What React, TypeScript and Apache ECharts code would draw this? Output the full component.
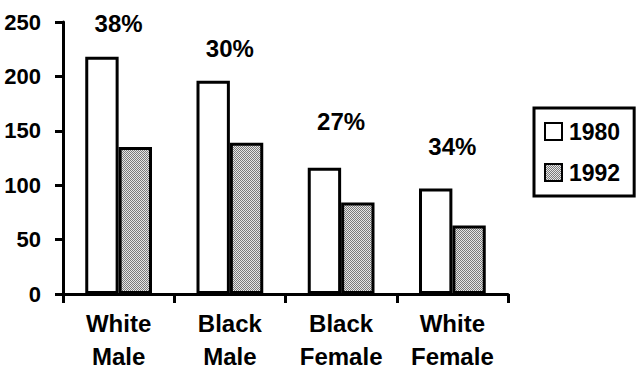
import React, { useEffect, useRef } from "react";
import * as echarts from "echarts";

const categories = ["White\nMale", "Black\nMale", "Black\nFemale", "White\nFemale"];
const values1980 = [218, 196, 116, 97];
const values1992 = [135, 139, 84, 63];
const pctLabels = ["38%", "30%", "27%", "34%"];
const pctLabelHeights = [249, 226, 159, 136];
const yTicks = { min: 0, max: 250, interval: 50 };

const FONT = "'Liberation Sans', Arial, Helvetica, sans-serif";

function makePattern(): HTMLCanvasElement {
  const c = document.createElement("canvas");
  c.width = 2;
  c.height = 2;
  const ctx = c.getContext("2d")!;
  ctx.fillStyle = "#e6e6e6";
  ctx.fillRect(0, 0, 2, 2);
  ctx.fillStyle = "#7a7a7a";
  ctx.fillRect(0, 0, 1, 1);
  ctx.fillRect(1, 1, 1, 1);
  return c;
}

export default function App() {
  const ref = useRef<HTMLDivElement>(null);
  useEffect(() => {
    if (!ref.current) return;
    const chart = echarts.init(ref.current, null, { renderer: "svg" });
    const pattern = { image: makePattern(), repeat: "repeat" as const };
    chart.setOption({
      animation: false,
      backgroundColor: "#fff",
      textStyle: { fontFamily: FONT },
      grid: { left: 63, right: 132, top: 22, bottom: 79 },
      legend: {
        data: ["1980", "1992"],
        orient: "vertical",
        left: 534,
        top: 108,
        padding: [12, 14, 12, 10],
        itemGap: 18,
        itemWidth: 17,
        itemHeight: 17,
        borderColor: "#000",
        borderWidth: 3,
        borderRadius: 0,
        icon: "rect",
        itemStyle: { borderColor: "#000", borderWidth: 2 },
        textStyle: {
          fontFamily: FONT,
          fontWeight: "bold",
          fontSize: 23,
          color: "#000",
          padding: [0, 0, 0, 2],
        },
      },
      xAxis: {
        type: "category",
        data: categories,
        axisLine: { lineStyle: { color: "#000", width: 3 } },
        axisTick: { show: true, length: 9, lineStyle: { color: "#000", width: 3 } },
        axisLabel: {
          margin: 13,
          fontFamily: FONT,
          fontWeight: "bold",
          fontSize: 24,
          lineHeight: 33,
          color: "#000",
          interval: 0,
        },
      },
      yAxis: {
        type: "value",
        min: yTicks.min,
        max: yTicks.max,
        interval: yTicks.interval,
        splitLine: { show: false },
        axisLine: { show: true, lineStyle: { color: "#000", width: 3 } },
        axisTick: { show: true, length: 8, lineStyle: { color: "#000", width: 3 } },
        axisLabel: {
          margin: 22,
          fontFamily: FONT,
          fontWeight: "bold",
          fontSize: 22,
          color: "#000",
        },
      },
      series: [
        {
          name: "1980",
          type: "bar",
          data: values1980,
          barWidth: "30%",
          barGap: "0%",
          itemStyle: { color: "#fff", borderColor: "#000", borderWidth: 3 },
        },
        {
          name: "1992",
          type: "bar",
          data: values1992,
          barWidth: "30%",
          barGap: "0%",
          itemStyle: { color: pattern, borderColor: "#000", borderWidth: 3 },
        },
        {
          name: "pct",
          type: "scatter",
          symbolSize: 0,
          data: pctLabelHeights,
          silent: true,
          itemStyle: { color: "#000" },
          label: {
            show: true,
            position: "inside",
            formatter: (p: any) => pctLabels[p.dataIndex],
            fontFamily: FONT,
            fontWeight: "bold",
            fontSize: 24,
            color: "#000",
            textBorderWidth: 0,
            opacity: 1,
          },
        },
      ],
    });
    return () => chart.dispose();
  }, []);
  return (
    <div
      ref={ref}
      style={{ position: "fixed", left: 0, top: 0, width: 640, height: 373 }}
    />
  );
}
